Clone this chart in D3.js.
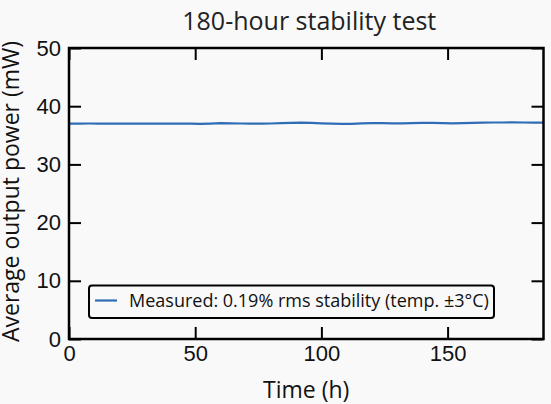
<!DOCTYPE html>
<html lang="en">
<head>
<meta charset="UTF-8">
<script src="https://d3js.org/d3.v7.min.js"></script>
<style>
  body { margin: 0; background: #f9f9f9; }
  svg { display: block; font-family: "Open Sans", sans-serif; }
</style>
</head>
<body>
<svg width="551" height="404"></svg>
<script>
// measured power, sampled every 4 hours
var hours = [0, 4, 8, 12, 16, 20, 24, 28, 32, 36, 40, 44, 48, 52, 56, 60, 64, 68, 72, 76,
  80, 84, 88, 92, 96, 100, 104, 108, 112, 116, 120, 124, 128, 132, 136, 140, 144, 148,
  152, 156, 160, 164, 168, 172, 176, 180, 184, 188];
var power = [37.00, 37.02, 37.03, 37.02, 37.01, 37.00, 37.01, 37.02, 37.00, 36.99, 37.01,
  37.02, 37.00, 36.98, 37.02, 37.08, 37.05, 37.03, 37.02, 37.01, 37.03, 37.10, 37.15,
  37.18, 37.12, 37.05, 37.00, 36.96, 36.98, 37.05, 37.08, 37.10, 37.06, 37.05, 37.10,
  37.12, 37.13, 37.10, 37.06, 37.10, 37.15, 37.18, 37.20, 37.20, 37.22, 37.20, 37.18, 37.18];
var xTicks = [0, 50, 100, 150];
var yTicks = [0, 10, 20, 30, 40, 50];

var svg = d3.select("svg"),
  width = +svg.attr("width"),
  height = +svg.attr("height");
var margin = {top: 48, right: 7.5, bottom: 65, left: 69};

var x = d3.scaleLinear().domain([0, 188]).range([margin.left, width - margin.right]);
var y = d3.scaleLinear().domain([0, 50]).range([height - margin.bottom, margin.top]);

svg.append("rect").attr("width", width).attr("height", height).attr("fill", "#f9f9f9");

// data line
var line = d3.line().x(function(d, i) { return x(hours[i]); }).y(function(d) { return y(d); });
svg.append("path").datum(power)
  .attr("fill", "none").attr("stroke", "#2f6db5").attr("stroke-width", 2.2)
  .attr("d", line);

// axes with inward ticks on all four sides
function styleAxis(g) {
  g.select(".domain").remove();
  g.selectAll(".tick line").attr("stroke", "#000").attr("stroke-width", 2);
  g.selectAll(".tick text").attr("fill", "#111").style("font-size", "22px");
}
svg.append("g").attr("transform", "translate(0," + y(0) + ")")
  .call(d3.axisBottom(x).tickValues(xTicks).tickSize(-12).tickPadding(6).tickFormat(d3.format("d")))
  .call(styleAxis);
svg.append("g").attr("transform", "translate(0," + y(50) + ")")
  .call(d3.axisTop(x).tickValues(xTicks).tickSize(-12).tickFormat(""))
  .call(styleAxis);
svg.append("g").attr("transform", "translate(" + x(0) + ",0)")
  .call(d3.axisLeft(y).tickValues(yTicks).tickSize(-12).tickPadding(8).tickFormat(d3.format("d")))
  .call(styleAxis);
svg.append("g").attr("transform", "translate(" + x(188) + ",0)")
  .call(d3.axisRight(y).tickValues(yTicks).tickSize(-12).tickFormat(""))
  .call(styleAxis);

// frame
svg.append("rect")
  .attr("x", x(0)).attr("y", y(50))
  .attr("width", x(188) - x(0)).attr("height", y(0) - y(50))
  .attr("fill", "none").attr("stroke", "#000").attr("stroke-width", 2.5);

// labels
svg.append("text").attr("x", (x(0) + x(188)) / 2 + 3).attr("y", 29.5)
  .attr("text-anchor", "middle").attr("fill", "#222").style("font-size", "25px")
  .text("180-hour stability test");
svg.append("text").attr("x", (x(0) + x(188)) / 2).attr("y", 398)
  .attr("text-anchor", "middle").attr("fill", "#111").style("font-size", "23px")
  .text("Time (h)");
svg.append("text").attr("transform", "translate(18.5," + ((y(0) + y(50)) / 2 - 2) + ") rotate(-90)")
  .attr("text-anchor", "middle").attr("fill", "#111").style("font-size", "23px")
  .text("Average output power (mW)");

// legend
var lg = svg.append("g");
lg.append("rect").attr("x", 89).attr("y", 285.5).attr("width", 405).attr("height", 32.5)
  .attr("rx", 3).attr("fill", "#f9f9f9").attr("stroke", "#000").attr("stroke-width", 2);
lg.append("line").attr("x1", 95).attr("x2", 117).attr("y1", 300.5).attr("y2", 300.5)
  .attr("stroke", "#2f6db5").attr("stroke-width", 2.2);
lg.append("text").attr("x", 129).attr("y", 307.3).attr("fill", "#111").style("font-size", "18px")
  .text("Measured: 0.19% rms stability (temp. \u00b13\u00b0C)");
</script>
</body>
</html>
